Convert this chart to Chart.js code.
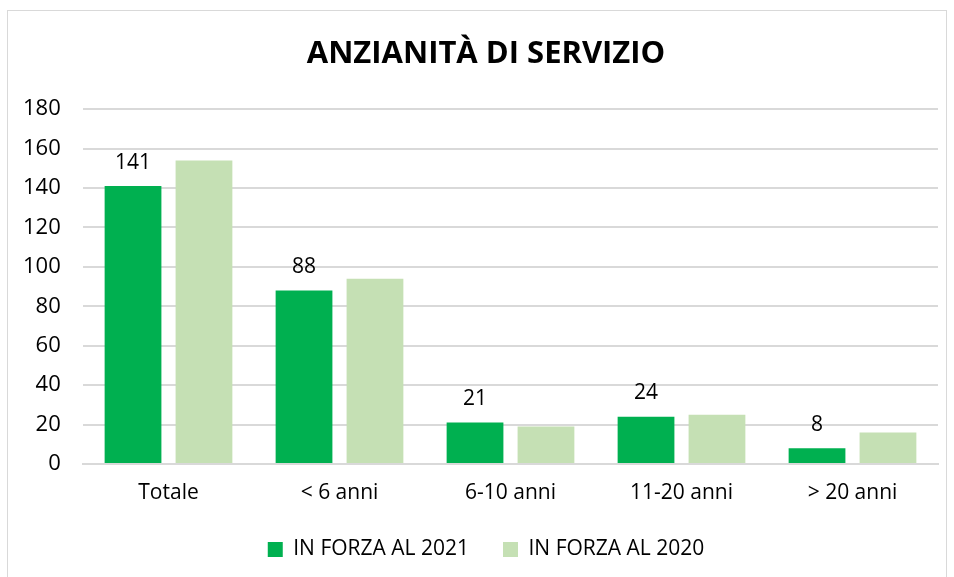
<!DOCTYPE html>
<html>
<head>
<meta charset="utf-8">
<script src="https://cdn.jsdelivr.net/npm/chart.js@4"></script>
<style>
  html, body { margin: 0; padding: 0; background: #fff; }
  #wrap { position: relative; width: 954px; height: 577px; }
  #frame { position: absolute; left: 7px; top: 10px; width: 940px; height: 580px; border: 1px solid #d9d9d9; box-sizing: border-box; pointer-events: none; }
</style>
</head>
<body>
<div id="wrap">
  <canvas id="chart" width="954" height="577"></canvas>
  <div id="frame"></div>
</div>
<script>
const categories = ['Totale', '< 6 anni', '6-10 anni', '11-20 anni', '> 20 anni'];
const values2021 = [141, 88, 21, 24, 8];
const values2020 = [154, 94, 19, 25, 16];
const yTicks = [0, 20, 40, 60, 80, 100, 120, 140, 160, 180];

const FONT = '"Open Sans", sans-serif';

// labels above the 2021 bars only
const barLabels = {
  id: 'barLabels',
  afterDatasetsDraw(chart) {
    const ctx = chart.ctx;
    const meta = chart.getDatasetMeta(0);
    ctx.save();
    ctx.font = '21px ' + FONT;
    ctx.fillStyle = '#000';
    ctx.textAlign = 'center';
    ctx.textBaseline = 'bottom';
    meta.data.forEach((bar, i) => {
      ctx.fillText(values2021[i], bar.x, bar.y - 13);
    });
    ctx.restore();
  }
};

new Chart(document.getElementById('chart'), {
  type: 'bar',
  data: {
    labels: categories,
    datasets: [
      { label: 'IN FORZA AL 2021', data: values2021, backgroundColor: '#00B050' },
      { label: 'IN FORZA AL 2020', data: values2020, backgroundColor: '#C5E0B4' }
    ]
  },
  options: {
    responsive: false,
    animation: false,
    devicePixelRatio: 1,
    layout: { padding: { left: 34, right: 16, top: 0, bottom: 7 } },
    datasets: { bar: { categoryPercentage: 0.83, barPercentage: 0.8 } },
    plugins: {
      title: {
        display: true,
        text: 'ANZIANITÀ DI SERVIZIO',
        color: '#000',
        font: { family: FONT, size: 31, weight: 'bold' },
        padding: { top: 36, bottom: 36 }
      },
      legend: {
        position: 'bottom',
        labels: {
          color: '#000',
          font: { family: FONT, size: 21 },
          boxWidth: 15,
          boxHeight: 15,
          padding: 34
        }
      },
      tooltip: { enabled: false }
    },
    scales: {
      x: {
        grid: { display: false, drawTicks: false },
        border: { color: '#d9d9d9', width: 2 },
        ticks: { color: '#000', font: { family: FONT, size: 21 }, padding: 16 },
        afterFit(scale) { scale.height = 41; }
      },
      y: {
        min: 0,
        max: 180,
        afterBuildTicks(scale) { scale.ticks = yTicks.map(v => ({ value: v })); },
        grid: { color: '#d9d9d9', lineWidth: 2, drawTicks: false },
        border: { display: false },
        // mirrored so the labels may sit left of the axis box
        ticks: { color: '#000', font: { family: FONT, size: 22 }, mirror: true, crossAlign: 'far', padding: -60 },
        afterFit(scale) { scale.width = 49; }
      }
    }
  },
  plugins: [barLabels]
});
</script>
</body>
</html>
